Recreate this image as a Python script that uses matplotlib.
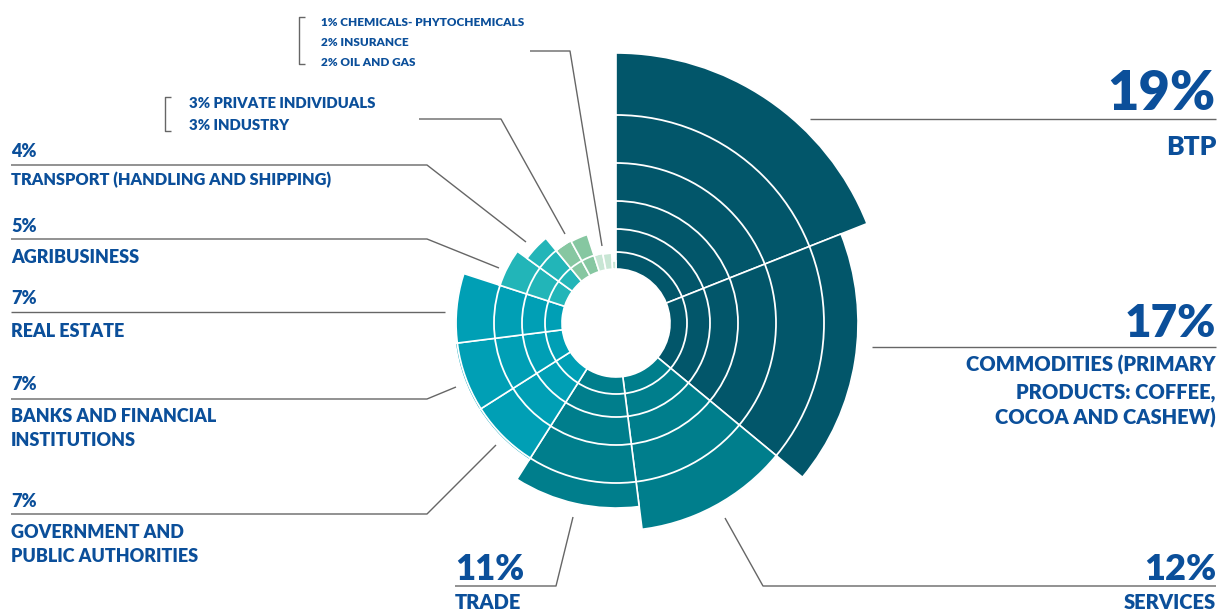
import numpy as np
import matplotlib
matplotlib.use("Agg")
import matplotlib.pyplot as plt

# ---------------- data ----------------
sectors = ["BTP", "COMMODITIES", "SERVICES", "TRADE", "GOVERNMENT", "BANKS",
           "REAL ESTATE", "AGRIBUSINESS", "TRANSPORT", "PRIVATE INDIVIDUALS",
           "INDUSTRY", "OIL AND GAS", "INSURANCE", "CHEMICALS"]
shares = [19, 17, 12, 11, 7, 7, 7, 5, 4, 3, 3, 2, 2, 1]          # % (angular width)
bar_extent = [270, 242, 209, 185, 162, 162, 161, 123, 110, 94, 93, 71, 70, 62]  # radial extent
colors = ["#02566A", "#02566A", "#007E8C", "#007E8C", "#009FB5", "#009FB5",
          "#009FB5", "#22B5B8", "#22B5B8", "#86C7A1", "#86C7A1", "#C8E6D4",
          "#C8E6D4", "#C8E6D4"]
ring_levels = [71, 94, 122, 160, 208]

W, H = 1220, 612
TXT = "#0B4F9A"
LINE = "#666666"
FONT = "Lato"
WEIGHT = "heavy"

fig = plt.figure(figsize=(W / 100, H / 100), dpi=100)
fig.patch.set_facecolor("white")

# ---------------- polar chart ----------------
cx, cy, R = 616, 323, 280
hole = 54
ax = fig.add_axes([(cx - R) / W, (H - cy - R) / H, 2 * R / W, 2 * R / H], projection="polar")
ax.set_theta_zero_location("N")
ax.set_theta_direction(-1)
shares_arr = np.array(shares, dtype=float)
widths = shares_arr / shares_arr.sum() * 2 * np.pi
starts = np.concatenate([[0], np.cumsum(widths)[:-1]])
heights = np.array(bar_extent, dtype=float) - hole
ax.bar(starts, heights, width=widths, bottom=hole, align="edge",
       color=colors, edgecolor="white", linewidth=1.2, zorder=1)
ax.set_ylim(0, R)
ax.set_yticks(ring_levels)
ax.set_yticklabels([])
ax.set_xticks([])
ax.yaxis.grid(True, color="white", linewidth=1.3)
ax.xaxis.grid(False)
ax.set_axisbelow(False)
ax.spines["polar"].set_visible(False)
ax.patch.set_alpha(0)

# ---------------- overlay for labels ----------------
ov = fig.add_axes([0, 0, 1, 1])
ov.set_xlim(0, W)
ov.set_ylim(H, 0)
ov.axis("off")
ov.patch.set_alpha(0)


def line(xs, ys):
    ov.plot(xs, ys, color=LINE, linewidth=1.0, solid_capstyle="butt")


def txt(x, y, s, size, ha="left"):
    ov.text(x, y, s, fontsize=size, fontfamily=FONT, fontweight=WEIGHT,
            color=TXT, ha=ha, va="baseline")


# right side
txt(1216, 110, "19%", 39, "right")
line([810, 1216], [119, 119])
txt(1216, 155, "BTP", 19, "right")

txt(1216, 337, "17%", 33, "right")
line([872, 1216], [347, 347])
txt(1216, 372, "COMMODITIES (PRIMARY", 14.5, "right")
txt(1216, 399, "PRODUCTS: COFFEE,", 14.5, "right")
txt(1216, 425, "COCOA AND CASHEW)", 14.5, "right")

# bottom
txt(1216, 580, "12%", 26, "right")
line([725, 763, 1216], [518, 586, 586])
txt(1216, 609, "SERVICES", 14.5, "right")

txt(455, 580, "11%", 25, "left")
line([573, 556, 455], [517, 586, 586])
txt(455, 609, "TRADE", 14.5, "left")

# left side
LS = 13
txt(11, 157, "4%", LS)
line([11, 427, 526], [165, 165, 242])
txt(11, 185, "TRANSPORT (HANDLING AND SHIPPING)", 11.8)

txt(11, 232, "5%", LS)
line([11, 427, 499], [239, 239, 268])
txt(11, 263, "AGRIBUSINESS", LS)

txt(11, 304, "7%", LS)
line([11, 445], [312, 312])
txt(11, 337, "REAL ESTATE", LS)

txt(11, 390, "7%", LS)
line([11, 427, 456], [399, 399, 387])
txt(11, 422, "BANKS AND FINANCIAL", LS)
txt(11, 446, "INSTITUTIONS", LS)

txt(11, 507, "7%", LS)
line([11, 427, 496], [514, 514, 445])
txt(11, 538, "GOVERNMENT AND", LS)
txt(11, 562, "PUBLIC AUTHORITIES", LS)

# top groups
line([171, 165, 165, 171], [97, 97, 131, 131])
txt(189, 108, "3% PRIVATE INDIVIDUALS", 10.7)
txt(189, 130, "3% INDUSTRY", 10.7)
line([419, 501, 565], [119, 119, 234])

line([305, 299, 299, 305], [17, 17, 64, 64])
txt(321, 26, "1% CHEMICALS- PHYTOCHEMICALS", 8.5)
txt(321, 46, "2% INSURANCE", 8.5)
txt(321, 66, "2% OIL AND GAS", 8.5)
line([530, 570, 602], [51, 51, 246])

fig.savefig("out.png", dpi=100, facecolor="white")
